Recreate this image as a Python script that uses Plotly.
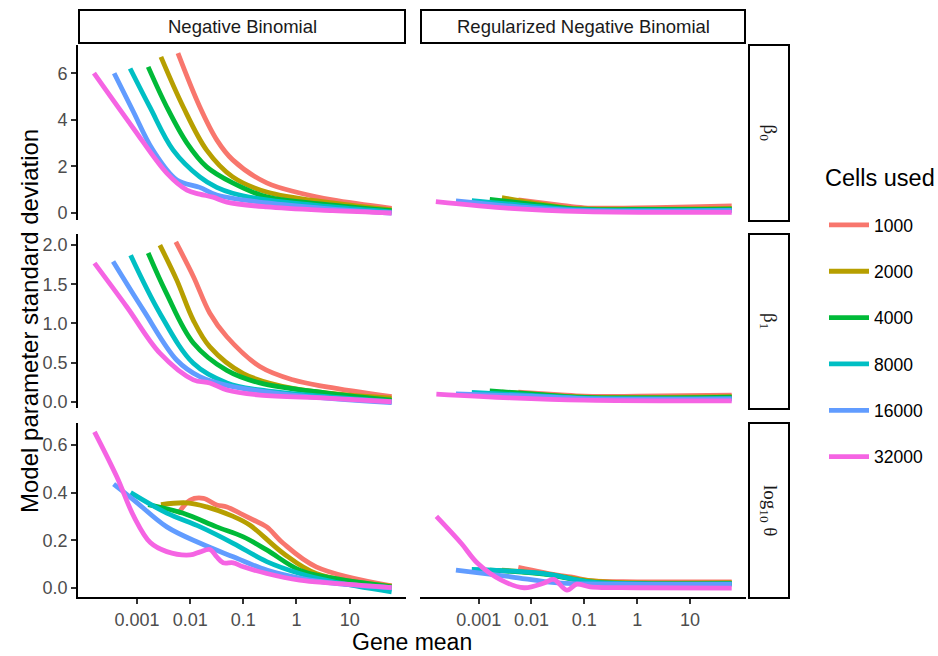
import plotly.graph_objects as go

W, H = 938, 656

series = ["1000", "2000", "4000", "8000", "16000", "32000"]
colors = ["#F8766D", "#B79F00", "#00BA38", "#00BFC4", "#619CFF", "#F564E3"]

# log10(gene mean) positions and standard deviations
nb_beta0 = {
    "1000": ([-2.23, -1.82, -1.5, -1.2, -0.56, 0.06, 0.68, 1.79], [6.86, 4.56, 3.14, 2.28, 1.29, 0.86, 0.56, 0.2]),
    "2000": ([-2.55, -2.13, -1.69, -1.2, -0.56, 0.68, 1.79], [6.7, 4.55, 2.7, 1.55, 0.9, 0.43, 0.13]),
    "4000": ([-2.79, -2.44, -2.06, -1.69, -1.2, -0.56, 0.68, 1.79], [6.27, 4.55, 3.0, 1.98, 1.29, 0.69, 0.34, 0.1]),
    "8000": ([-3.13, -2.76, -2.32, -1.82, -1.5, -1.2, -0.56, 0.68, 1.79], [6.2, 4.55, 2.7, 1.55, 1.1, 0.85, 0.56, 0.26, 0.04]),
    "16000": ([-3.43, -3.08, -2.7, -2.25, -1.82, -1.5, -0.56, 0.68, 1.79], [6.0, 4.4, 2.7, 1.42, 1.1, 0.77, 0.43, 0.17, 0.0]),
    "32000": ([-3.81, -3.08, -2.44, -2.06, -1.82, -1.57, -1.31, -0.56, 0.68, 1.79], [6.0, 3.67, 1.71, 0.98, 0.81, 0.68, 0.47, 0.26, 0.1, 0.0]),
}
nb_beta1 = {
    "1000": ([-2.27, -1.94, -1.63, -1.31, -0.69, -0.07, 0.57, 1.79], [2.04, 1.6, 1.13, 0.83, 0.45, 0.28, 0.19, 0.064]),
    "2000": ([-2.57, -2.25, -1.94, -1.63, -1.0, -0.07, 1.79], [2.0, 1.55, 1.04, 0.7, 0.36, 0.17, 0.047]),
    "4000": ([-2.79, -2.45, -1.94, -1.31, -0.69, 0.57, 1.79], [1.9, 1.39, 0.75, 0.4, 0.24, 0.11, 0.02]),
    "8000": ([-3.12, -2.57, -1.94, -1.31, -0.69, 0.57, 1.79], [1.87, 1.13, 0.49, 0.24, 0.15, 0.064, 0.0]),
    "16000": ([-3.45, -2.88, -2.25, -1.82, -1.31, -0.07, 1.79], [1.79, 1.17, 0.53, 0.32, 0.21, 0.085, -0.01]),
    "32000": ([-3.8, -3.19, -2.57, -1.94, -1.63, -1.31, -0.69, 0.57, 1.79], [1.77, 1.21, 0.62, 0.28, 0.24, 0.15, 0.085, 0.047, 0.0]),
}
nb_theta = {
    "1000": ([-2.23, -2.0, -1.75, -1.5, -1.31, -1.06, -0.81, -0.56, -0.25, 0.37, 1.79], [0.31, 0.369, 0.376, 0.348, 0.34, 0.313, 0.285, 0.256, 0.187, 0.088, 0.008]),
    "2000": ([-2.55, -2.06, -1.69, -1.19, -0.88, -0.25, 0.37, 1.79], [0.35, 0.357, 0.34, 0.3, 0.264, 0.145, 0.06, 0.007]),
    "4000": ([-2.79, -2.13, -1.5, -1.0, -0.56, 0.06, 0.68, 1.79], [0.35, 0.313, 0.256, 0.214, 0.159, 0.074, 0.04, 0.004]),
    "8000": ([-3.12, -2.44, -1.81, -1.19, -0.56, 0.06, 0.68, 1.79], [0.40, 0.314, 0.256, 0.187, 0.11, 0.06, 0.026, -0.017]),
    "16000": ([-3.44, -3.06, -2.44, -1.81, -1.19, -0.56, 0.06, 0.68, 1.79], [0.436, 0.369, 0.256, 0.187, 0.13, 0.074, 0.04, 0.019, 0.0]),
    "32000": ([-3.8, -3.38, -3.06, -2.75, -2.44, -2.0, -1.81, -1.63, -1.5, -1.38, -1.19, -1.0, -0.56, 0.06, 0.68, 1.79],
              [0.656, 0.467, 0.3, 0.19, 0.152, 0.138, 0.151, 0.161, 0.13, 0.105, 0.105, 0.088, 0.06, 0.032, 0.019, 0.0]),
}
rnb_beta0 = {
    "1000": ([-2.25, -1.5, -1.0, 0.0, 1.0, 1.79], [0.56, 0.35, 0.22, 0.22, 0.26, 0.3]),
    "2000": ([-2.56, -2.0, -1.2, 0.0, 1.79], [0.66, 0.45, 0.2, 0.17, 0.2]),
    "4000": ([-2.79, -2.0, -1.2, 0.0, 1.79], [0.59, 0.38, 0.18, 0.15, 0.17]),
    "8000": ([-3.13, -2.0, -1.0, 1.79], [0.53, 0.3, 0.13, 0.12]),
    "16000": ([-3.43, -2.0, -1.0, 1.79], [0.52, 0.22, 0.1, 0.1]),
    "32000": ([-3.81, -2.4, -1.0, 1.79], [0.49, 0.2, 0.06, 0.03]),
}
rnb_beta1 = {
    "1000": ([-2.25, -1.5, -1.0, 0.0, 1.79], [0.124, 0.09, 0.07, 0.07, 0.085]),
    "2000": ([-2.56, -2.0, -1.0, 1.79], [0.124, 0.1, 0.06, 0.064]),
    "4000": ([-2.79, -2.0, -1.0, 1.79], [0.137, 0.1, 0.055, 0.06]),
    "8000": ([-3.13, -2.0, -1.0, 1.79], [0.12, 0.08, 0.045, 0.04]),
    "16000": ([-3.43, -2.0, -1.0, 1.79], [0.1, 0.07, 0.04, 0.035]),
    "32000": ([-3.8, -2.4, -1.0, 1.79], [0.098, 0.05, 0.02, 0.01]),
}
rnb_theta = {
    "1000": ([-2.25, -1.51, -1.26, -0.89, 0.0, 1.79], [0.086, 0.053, 0.046, 0.03, 0.025, 0.025]),
    "2000": ([-2.56, -1.8, -0.9, 0.0, 1.79], [0.074, 0.06, 0.03, 0.02, 0.021]),
    "4000": ([-2.79, -1.76, -0.9, 0.0, 1.79], [0.074, 0.057, 0.025, 0.018, 0.018]),
    "8000": ([-3.13, -1.8, -0.9, 0.0, 1.79], [0.077, 0.06, 0.025, 0.016, 0.015]),
    "16000": ([-3.43, -2.39, -1.5, 0.0, 1.79], [0.074, 0.046, 0.02, 0.015, 0.015]),
    "32000": ([-3.8, -3.33, -3.02, -2.57, -2.14, -1.76, -1.58, -1.33, -1.14, -0.89, 0.0, 1.79],
              [0.30, 0.187, 0.103, 0.032, 0.0, 0.02, 0.035, -0.01, 0.015, 0.004, 0.0, -0.002]),
}

col_labels = ["Negative Binomial", "Regularized Negative Binomial"]
row_labels = ["β<sub>0</sub>", "β<sub>1</sub>", "log<sub>10</sub> θ"]
x_tickvals = [0.001, 0.01, 0.1, 1, 10]
x_ticktext = ["0.001", "0.01", "0.1", "1", "10"]
y_ticks = [
    ([0, 2, 4, 6], ["0", "2", "4", "6"]),
    ([0, 0.5, 1.0, 1.5, 2.0], ["0.0", "0.5", "1.0", "1.5", "2.0"]),
    ([0, 0.2, 0.4, 0.6], ["0.0", "0.2", "0.4", "0.6"]),
]
y_ranges = [[-0.30, 7.21], [-0.080, 2.142], [-0.039, 0.693]]
x_range = [-4.11, 2.06]

panels = [[nb_beta0, rnb_beta0], [nb_beta1, rnb_beta1], [nb_theta, rnb_theta]]

# layout in pixels
col_px = [(78, 406), (420, 746)]
row_px = [(45, 220), (234, 408), (423, 597)]

def px(x):
    return x / W

def py(y):
    return 1 - y / H

fig = go.Figure()
layout = {}
SANS = "Liberation Sans, Arial, sans-serif"
TICK_FONT = dict(family=SANS, size=18, color="#4D4D4D")

for r in range(3):
    for c in range(2):
        idx = r * 2 + c + 1
        xa = "x" if idx == 1 else f"x{idx}"
        ya = "y" if idx == 1 else f"y{idx}"
        data = panels[r][c]
        for s, col in zip(series, colors):
            lx, yv = data[s]
            fig.add_trace(go.Scatter(
                x=[10 ** v for v in lx], y=yv, mode="lines",
                line=dict(color=col, width=4.8, shape="spline", smoothing=1.0),
                name=s, legendgroup=s, showlegend=(idx == 1),
                xaxis=xa, yaxis=ya, hoverinfo="skip",
            ))
        bottom = (r == 2)
        left = (c == 0)
        layout["xaxis" if idx == 1 else f"xaxis{idx}"] = dict(
            type="log", range=x_range, domain=[px(col_px[c][0]), px(col_px[c][1])],
            anchor=ya, showgrid=False, zeroline=False,
            showline=bottom, linecolor="black", linewidth=1.8,
            ticks="outside" if bottom else "", ticklen=5, tickwidth=1.5, tickcolor="#333333",
            tickvals=x_tickvals, ticktext=x_ticktext, showticklabels=bottom,
            tickfont=TICK_FONT, automargin=False,
        )
        layout["yaxis" if idx == 1 else f"yaxis{idx}"] = dict(
            range=y_ranges[r], domain=[py(row_px[r][1]), py(row_px[r][0])],
            anchor=xa, showgrid=False, zeroline=False,
            showline=left, linecolor="black", linewidth=1.8,
            ticks="outside" if left else "", ticklen=5, tickwidth=1.5, tickcolor="#333333",
            tickvals=y_ticks[r][0], ticktext=y_ticks[r][1], showticklabels=left,
            tickfont=TICK_FONT, automargin=False,
        )

shapes = []
annotations = []
# top strips
for c in range(2):
    x0, x1 = col_px[c]
    shapes.append(dict(type="rect", xref="paper", yref="paper",
                       x0=px(x0 + 1), x1=px(x1 - 1), y0=py(43), y1=py(10),
                       line=dict(color="black", width=2), fillcolor="white", layer="below"))
    annotations.append(dict(xref="paper", yref="paper", x=px((x0 + x1) / 2), y=py(26.5),
                            text=col_labels[c], showarrow=False,
                            font=dict(family=SANS, size=18.5, color="#1A1A1A"),
                            xanchor="center", yanchor="middle"))
# right strips
for r in range(3):
    y0, y1 = row_px[r]
    shapes.append(dict(type="rect", xref="paper", yref="paper",
                       x0=px(749), x1=px(789), y0=py(y1 + 1), y1=py(y0),
                       line=dict(color="black", width=2), fillcolor="white", layer="below"))
    annotations.append(dict(xref="paper", yref="paper", x=px(769), y=py((y0 + y1) / 2),
                            text=row_labels[r], showarrow=False, textangle=90,
                            font=dict(family="Liberation Serif, Times New Roman, serif", size=19, color="#1A1A1A"),
                            xanchor="center", yanchor="middle"))

# axis titles and legend title
annotations.append(dict(xref="paper", yref="paper", x=px(412), y=py(642), text="Gene mean",
                        showarrow=False, font=dict(family=SANS, size=23, color="black"),
                        xanchor="center", yanchor="middle"))
annotations.append(dict(xref="paper", yref="paper", x=px(30), y=py(321), text="Model parameter standard deviation",
                        showarrow=False, textangle=-90,
                        font=dict(family=SANS, size=24, color="black"),
                        xanchor="center", yanchor="middle"))
annotations.append(dict(xref="paper", yref="paper", x=px(823), y=py(178), text="Cells used",
                        showarrow=False, font=dict(family=SANS, size=23.5, color="black"),
                        xanchor="left", yanchor="middle"))

fig.update_layout(
    width=W, height=H,
    margin=dict(l=0, r=0, t=0, b=0),
    paper_bgcolor="white", plot_bgcolor="white",
    shapes=shapes, annotations=annotations,
    showlegend=True,
    legend=dict(
        font=dict(family=SANS, size=17.5, color="black"),
        x=px(824), y=py(207), xanchor="left", yanchor="top",
        tracegroupgap=20.6, itemwidth=40, bgcolor="rgba(0,0,0,0)",
    ),
    **layout,
)

fig.write_html("out.html", config={"displayModeBar": False},
               post_script="document.body.style.margin='0';document.body.style.overflow='hidden';")
